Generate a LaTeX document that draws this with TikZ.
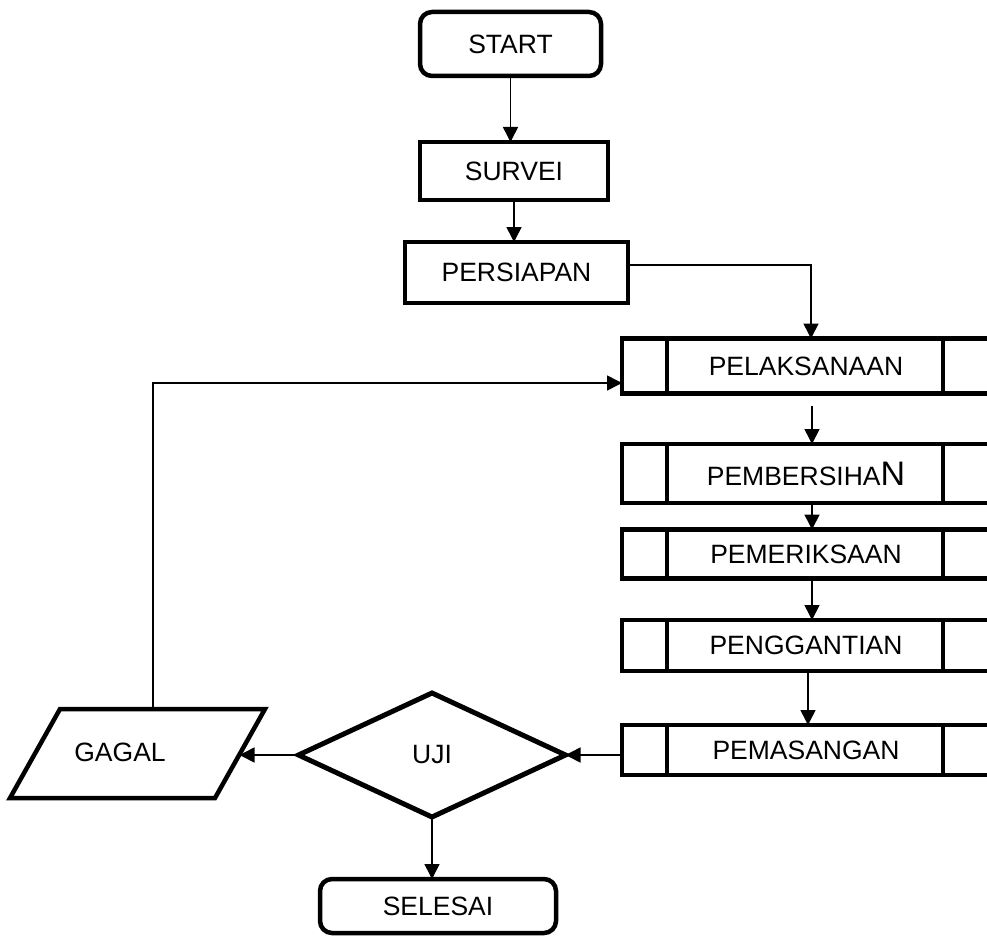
\documentclass[tikz,border=0pt]{standalone}
\usepackage{fontspec}
\setmainfont{Liberation Sans}
\usetikzlibrary{arrows.meta,shapes.geometric,calc}
\begin{document}
\begin{tikzpicture}[x=1pt,y=-1pt,
  every node/.style={font=\fontsize{26.5}{30}\selectfont, inner sep=0pt, outer sep=0pt},
  termbox/.style={draw, line width=4.5pt, rounded corners=12pt},
  stepbox/.style={draw, line width=4.5pt},
  procbox/.style={draw, line width=4.5pt, minimum width=368pt},
  decbox/.style={draw, diamond, line width=5pt, minimum width=267pt, minimum height=124pt},
  conn/.style={line width=1.6pt, -{Triangle[width=15pt,length=15pt]}},
]
\useasboundingbox (0,0) rectangle (987,936);
\clip (0,0) rectangle (987,936);
\fill[white] (0,0) rectangle (987,936);

% terminals and steps
\node[termbox, minimum width=181pt, minimum height=64pt] (START) at (510.5,44) {START};
\node[stepbox, minimum width=188pt, minimum height=58pt] (SURVEI) at (514,171) {SURVEI};
\node[stepbox, minimum width=223pt, minimum height=61pt] (PERSIAPAN) at (516.5,272.5) {PERSIAPAN};

% predefined process boxes
\node[procbox, minimum height=55pt] (P1) at (806,366) {PELAKSANAAN};
\node[procbox, minimum height=59pt] (P2) at (806,473.5) {PEMBERSIHA{\fontsize{34}{36}\selectfont N}};
\node[procbox, minimum height=49pt] (P3) at (806,554) {PEMERIKSAAN};
\node[procbox, minimum height=51pt] (P4) at (806,645.5) {PENGGANTIAN};
\node[procbox, minimum height=50pt] (P5) at (806,750) {PEMASANGAN};
\foreach \p in {P1,P2,P3,P4,P5}{
  \draw[line width=4.5pt] ([xshift=45pt]\p.north west) -- ([xshift=45pt]\p.south west);
  \draw[line width=4.5pt] ([xshift=-47pt]\p.north east) -- ([xshift=-47pt]\p.south east);
}

% decision
\node[decbox] (UJI) at (432,755) {UJI};

% GAGAL parallelogram
\coordinate (gTL) at (60,709);
\coordinate (gTR) at (265,709);
\coordinate (gBR) at (215,798);
\coordinate (gBL) at (10,798);
\draw[line width=4.5pt, line join=miter] (gTL) -- (gTR) -- (gBR) -- (gBL) -- cycle;
\node (GAGAL) at (120,752) {GAGAL};
\coordinate (gTop) at (153,709);
\coordinate (gRight) at (239.5,755);

% end
\node[termbox, minimum width=236pt, minimum height=54pt] (SELESAI) at (438,906) {SELESAI};

% connectors
\draw[conn] (START.south) -- (START.south |- SURVEI.north);
\draw[conn] (SURVEI.south) -- (SURVEI.south |- PERSIAPAN.north);
\draw[conn] ([yshift=7.5pt]PERSIAPAN.east) -| ([xshift=5pt]P1.north);
\draw[conn] ([xshift=6pt,yshift=-12pt]P1.south) -- ([xshift=6pt]P2.north);
\draw[conn] ([xshift=6pt]P2.south) -- ([xshift=6pt]P3.north);
\draw[conn] ([xshift=6pt]P3.south) -- ([xshift=6pt]P4.north);
\draw[conn] ([xshift=2pt]P4.south) -- ([xshift=2pt]P5.north);
\draw[conn] (UJI.east -| P5.west) -- (UJI.east);
\draw[conn] (UJI.west) -- (gRight);
\draw[conn] (UJI.south) -- (UJI.south |- SELESAI.north);
\draw[conn] (gTop) |- ([yshift=-17pt]P1.west);
\end{tikzpicture}
\end{document}
